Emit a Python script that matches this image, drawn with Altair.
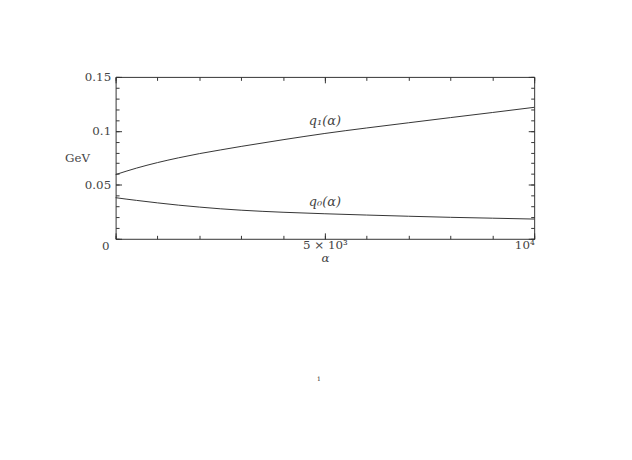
import altair as alt
import pandas as pd

# ---- data ----
alpha = [0, 250, 500, 1000, 1500, 2000, 2500, 3000, 4000, 5000, 6000, 7000, 8000, 9000, 10000]
q1 = [0.0595, 0.0626, 0.0655, 0.0706, 0.0750, 0.0789, 0.0823, 0.0856, 0.0918, 0.0976,
      0.1027, 0.1075, 0.1123, 0.1170, 0.1218]
q0 = [0.0381, 0.0368, 0.0356, 0.0333, 0.0312, 0.0294, 0.0278, 0.0265, 0.0246, 0.0232,
      0.0220, 0.0209, 0.0199, 0.0191, 0.0183]

label_x = [5000, 5000]
label_y = [0.1089, 0.0341]
label_text = ["q₁(α)", "q₀(α)"]

x_major = [0, 5000, 10000]
x_minor = [0, 1000, 2000, 3000, 4000, 5000, 6000, 7000, 8000, 9000, 10000]
y_major = [0, 0.05, 0.1, 0.15]
y_minor = [0, 0.01, 0.02, 0.03, 0.04, 0.05, 0.06, 0.07, 0.08, 0.09, 0.1,
           0.11, 0.12, 0.13, 0.14, 0.15]
x_label_expr = "datum.value == 5000 ? '5 × 10³' : datum.value == 10000 ? '10⁴' : ''"
origin_label = ["0"]
page_number = "1"

n = len(alpha)
df = pd.DataFrame({
    "alpha": alpha * 2,
    "q": q1 + q0,
    "series": ["q1"] * n + ["q0"] * n,
})
labels_df = pd.DataFrame({"alpha": label_x, "q": label_y, "text": label_text})
origin_df = pd.DataFrame({"alpha": [0], "q": [0], "text": origin_label})

FONT = "DejaVu Serif, Liberation Serif, serif"
INK = "#333333"
TXT = "#444444"

xs = alt.Scale(domain=[0, 10000], nice=False, zero=False)
ys = alt.Scale(domain=[0, 0.15], nice=False, zero=False)

common = dict(domain=False, grid=False, tickColor=INK, tickWidth=1,
              labelFont=FONT, labelColor=TXT, labelFontSize=12)


def ax(orient, values, size, labels=False, **kw):
    return alt.Axis(orient=orient, values=values, tickSize=size, offset=-size,
                    labels=labels, **common, **kw)


def line_layer(xaxis, yaxis, opacity=1.0):
    return alt.Chart(df).mark_line(strokeWidth=1, interpolate="monotone",
                                   opacity=opacity).encode(
        x=alt.X("alpha:Q", scale=xs, axis=xaxis),
        y=alt.Y("q:Q", scale=ys, axis=yaxis),
        detail="series:N",
        color=alt.value(INK),
    )


main = line_layer(
    ax("bottom", x_major, 6, labels=True, labelExpr=x_label_expr, labelPadding=1,
       title="α", titleFont=FONT, titleFontStyle="italic", titleFontWeight="normal",
       titleFontSize=12, titleColor=TXT, titlePadding=2),
    ax("left", y_major, 6, labels=True, labelPadding=5,
       labelExpr="datum.value == 0 ? '' : format(datum.value, '~g')",
       title="GeV", titleFont=FONT, titleFontWeight="normal", titleFontSize=12,
       titleColor=TXT, titleAngle=0, titleAlign="center", titleBaseline="middle",
       titleX=-45, titleY=82),
)
minor_bl = line_layer(ax("bottom", x_minor, 3.5, title=None),
                      ax("left", y_minor, 3.5, title=None), opacity=0)
major_tr = line_layer(ax("top", x_major, 6, title=None),
                      ax("right", y_major, 6, title=None), opacity=0)
minor_tr = line_layer(ax("top", x_minor, 3.5, title=None),
                      ax("right", y_minor, 3.5, title=None), opacity=0)

curve_labels = alt.Chart(labels_df).mark_text(
    font=FONT, fontSize=13, fontStyle="italic", color=TXT
).encode(
    x=alt.X("alpha:Q", scale=xs, axis=None),
    y=alt.Y("q:Q", scale=ys, axis=None),
    text="text:N",
)

origin = alt.Chart(origin_df).mark_text(
    font=FONT, fontSize=12, color=TXT, dx=-10, dy=7
).encode(
    x=alt.X("alpha:Q", scale=xs, axis=None),
    y=alt.Y("q:Q", scale=ys, axis=None),
    text="text:N",
)

page = alt.Chart(pd.DataFrame({"t": [page_number]})).mark_text(
    font=FONT, fontSize=6, color="#222222"
).encode(x=alt.value(206), y=alt.value(306), text="t:N")

chart = alt.layer(main, minor_bl, major_tr, minor_tr, curve_labels, origin, page).resolve_axis(
    x="independent", y="independent"
).properties(
    width=424, height=164,
    autosize=alt.AutoSizeParams(type="none"),
    padding={"left": 109, "top": 67, "right": 91, "bottom": 200},
    background="white",
).configure_view(stroke=INK, strokeWidth=1)

chart.save("out.html", embed_options={"renderer": "svg", "actions": False})
